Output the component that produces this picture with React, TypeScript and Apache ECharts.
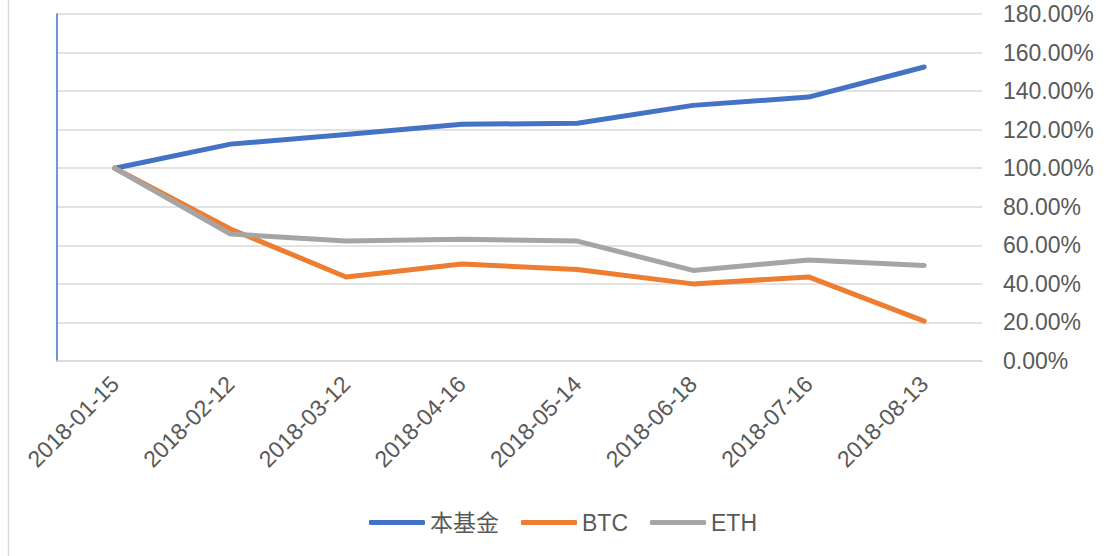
import React, { useEffect, useRef } from "react";
import * as echarts from "echarts";

const categories = ["2018-01-15", "2018-02-12", "2018-03-12", "2018-04-16", "2018-05-14", "2018-06-18", "2018-07-16", "2018-08-13"];
const fundValues = [100, 112.5, 117.5, 122.8, 123.3, 132.6, 136.9, 152.5];
const btcValues = [100, 68.5, 43.6, 50.3, 47.5, 40.0, 43.6, 20.7];
const ethValues = [100, 65.9, 62.2, 63.1, 62.2, 47.0, 52.4, 49.6];
const seriesNames = ["本基金", "BTC", "ETH"];
const colors = ["#4472C4", "#ED7D31", "#A5A5A5"];

const FONT = "'Liberation Sans', Arial, 'Noto Sans CJK SC', sans-serif";

export default function App() {
  const ref = useRef<HTMLDivElement>(null);
  useEffect(() => {
    if (!ref.current) return;
    const chart = echarts.init(ref.current, null, { renderer: "svg" });
    const mk = (name: string, data: number[], color: string) => ({
      name,
      type: "line",
      data,
      showSymbol: false,
      symbol: "none",
      yAxisIndex: 0,
      lineStyle: { color, width: 5, cap: "round", join: "round" },
      itemStyle: { color },
    });
    chart.setOption({
      animation: false,
      backgroundColor: "#ffffff",
      textStyle: { fontFamily: FONT },
      grid: { left: 57, right: 124, top: 14, bottom: 195, containLabel: false },
      legend: {
        data: seriesNames.map((n) => ({ name: n, icon: "roundRect" })),
        left: 364,
        top: 506,
        itemWidth: 56,
        itemHeight: 5,
        itemGap: 22,
        textStyle: { color: "#595959", fontSize: 23, fontFamily: FONT },
      },
      graphic: [
        {
          type: "line",
          shape: { x1: 8.5, y1: 0, x2: 8.5, y2: 556 },
          style: { stroke: "#D9D9D9", lineWidth: 1.5 },
        },
      ],
      xAxis: {
        type: "category",
        data: categories,
        boundaryGap: true,
        axisLine: { show: true, lineStyle: { color: "#D9D9D9", width: 1.5 } },
        axisTick: { show: false },
        axisLabel: {
          rotate: 45,
          margin: 19,
          color: "#595959",
          fontSize: 23,
          fontFamily: FONT,
          interval: 0,
        },
      },
      yAxis: [
        {
          type: "value",
          position: "right",
          min: 0,
          max: 180,
          interval: 20,
          axisLine: { show: false },
          axisTick: { show: false },
          splitLine: { show: true, lineStyle: { color: "#D9D9D9", width: 1.5 } },
          axisLabel: {
            margin: 21,
            color: "#595959",
            fontSize: 23,
            fontFamily: FONT,
            align: "left",
            formatter: (v: number) => v.toFixed(2) + "%",
          },
        },
        {
          type: "value",
          position: "left",
          min: 0,
          max: 180,
          interval: 20,
          axisLine: { show: true, lineStyle: { color: "#4472C4", width: 1.5 } },
          axisTick: { show: false },
          splitLine: { show: false },
          axisLabel: { show: false },
        },
      ],
      series: [
        mk(seriesNames[0], fundValues, colors[0]),
        mk(seriesNames[1], btcValues, colors[1]),
        mk(seriesNames[2], ethValues, colors[2]),
      ],
    });
    return () => chart.dispose();
  }, []);
  return (
    <div
      ref={ref}
      style={{ position: "fixed", left: 0, top: 0, width: 1106, height: 556 }}
    />
  );
}
